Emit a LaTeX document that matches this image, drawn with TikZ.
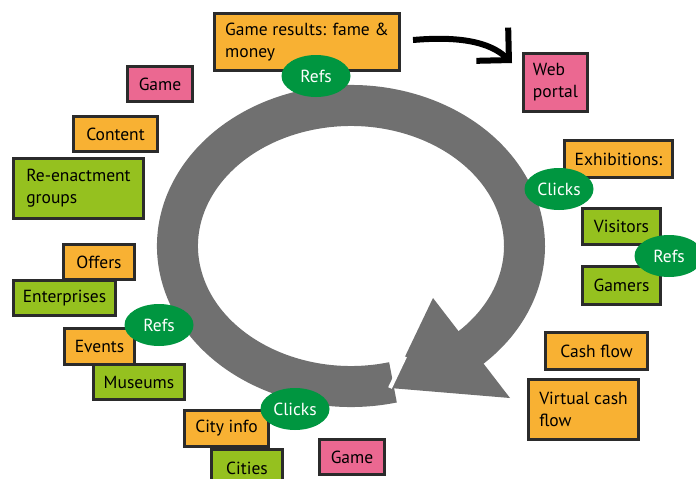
\documentclass[tikz,border=0pt]{standalone}
\usepackage{fontspec}
\setmainfont{PT Sans}
\usetikzlibrary{arrows.meta, calc, shapes.geometric}
\definecolor{boxorange}{HTML}{F8B133}
\definecolor{boxgreen}{HTML}{95C11F}
\definecolor{boxpink}{HTML}{EB6891}
\definecolor{taggreen}{HTML}{009640}
\definecolor{ringgray}{HTML}{707070}
\definecolor{rimgray}{HTML}{2B2B2B}
\begin{document}
\begin{tikzpicture}[
    x=1pt, y=1pt,
    box/.style={draw=rimgray, line width=3pt, anchor=north west, align=left,
                inner sep=6pt, font=\fontsize{17.5}{22}\selectfont},
    obox/.style={box, fill=boxorange},
    gbox/.style={box, fill=boxgreen},
    pbox/.style={box, fill=boxpink},
    tag/.style={ellipse, fill=taggreen, text=white, inner sep=0pt,
                minimum width=69pt, minimum height=42pt, font=\fontsize{17.5}{22}\selectfont},
    ring/.style={draw=ringgray, line width=41pt},
    flow/.style={line width=6pt, -{Straight Barb[length=23pt, width=46pt]}},
  ]
    \useasboundingbox (0,0) rectangle (696,-479);
    \coordinate (ringc) at (351,-246);
    \draw[ring] (ringc) ++(284:173.5pt and 140.5pt)
      arc[start angle=284, end angle=-50, x radius=173.5pt, y radius=140.5pt];
    \coordinate (tip) at (390,-388);
    \coordinate (barb1) at (433,-298);
    \coordinate (barb2) at (510,-398);
    \fill[ringgray] (tip) -- (barb1) -- (barb2) -- cycle;
    \draw[white, line width=4pt] (tip) -- ($(tip)!0.35!(barb1)$);

    \node[obox, minimum width=185pt, minimum height=57pt] (gres) at (213,-12) {Game results: fame \&\\money};
    \node[pbox, minimum width=64pt, minimum height=58pt] (web) at (522,-52) {Web\\portal};
    \node[pbox, minimum width=65pt, minimum height=35pt] (game1) at (126,-65) {Game};
    \node[obox, minimum width=84pt, minimum height=35pt] (content) at (72,-115) {Content};
    \node[gbox, minimum width=130pt, minimum height=60pt] (reenact) at (12,-157) {Re-enactment\\groups};
    \node[obox, minimum width=71pt, minimum height=35pt] (offers) at (62,-243) {Offers};
    \node[gbox, minimum width=102pt, minimum height=35pt] (enterp) at (12,-279) {Enterprises};
    \node[obox, minimum width=70pt, minimum height=36pt] (events) at (63,-327) {Events};
    \node[gbox, minimum width=91pt, minimum height=35pt] (museums) at (92,-363) {Museums};
    \node[obox, minimum width=84pt, minimum height=36pt] (cityinfo) at (183,-409) {City info};
    \node[gbox, minimum width=71pt, minimum height=38pt] (cities) at (210,-448) {Cities};
    \node[pbox, minimum width=65pt, minimum height=35pt] (game2) at (318,-438) {Game};
    \node[obox, minimum width=108pt, minimum height=37pt] (exhib) at (563,-139) {Exhibitions:};
    \node[gbox, minimum width=78pt, minimum height=36pt] (visitors) at (581,-207) {Visitors};
    \node[gbox, minimum width=78pt, minimum height=38pt] (gamers) at (581,-265) {Gamers};
    \node[obox, minimum width=102pt, minimum height=37pt] (cash) at (544,-331) {Cash flow};
    \node[obox, minimum width=110pt, minimum height=60pt] (vcash) at (527,-378) {Virtual cash\\flow};

    \node[tag] (refs1) at (316,-76) {Refs};
    \node[tag] (clicks1) at (559,-189) {Clicks};
    \node[tag] (refs2) at (669,-256) {Refs};
    \node[tag] (refs3) at (159,-325) {Refs};
    \node[tag] (clicks2) at (295,-409) {Clicks};

    \coordinate (webin) at (512,-63);
    \draw[flow] ([xshift=12pt, yshift=2pt]gres.east) .. controls (460,-36) and (490,-42) .. (webin);
  \end{tikzpicture}
\end{document}
